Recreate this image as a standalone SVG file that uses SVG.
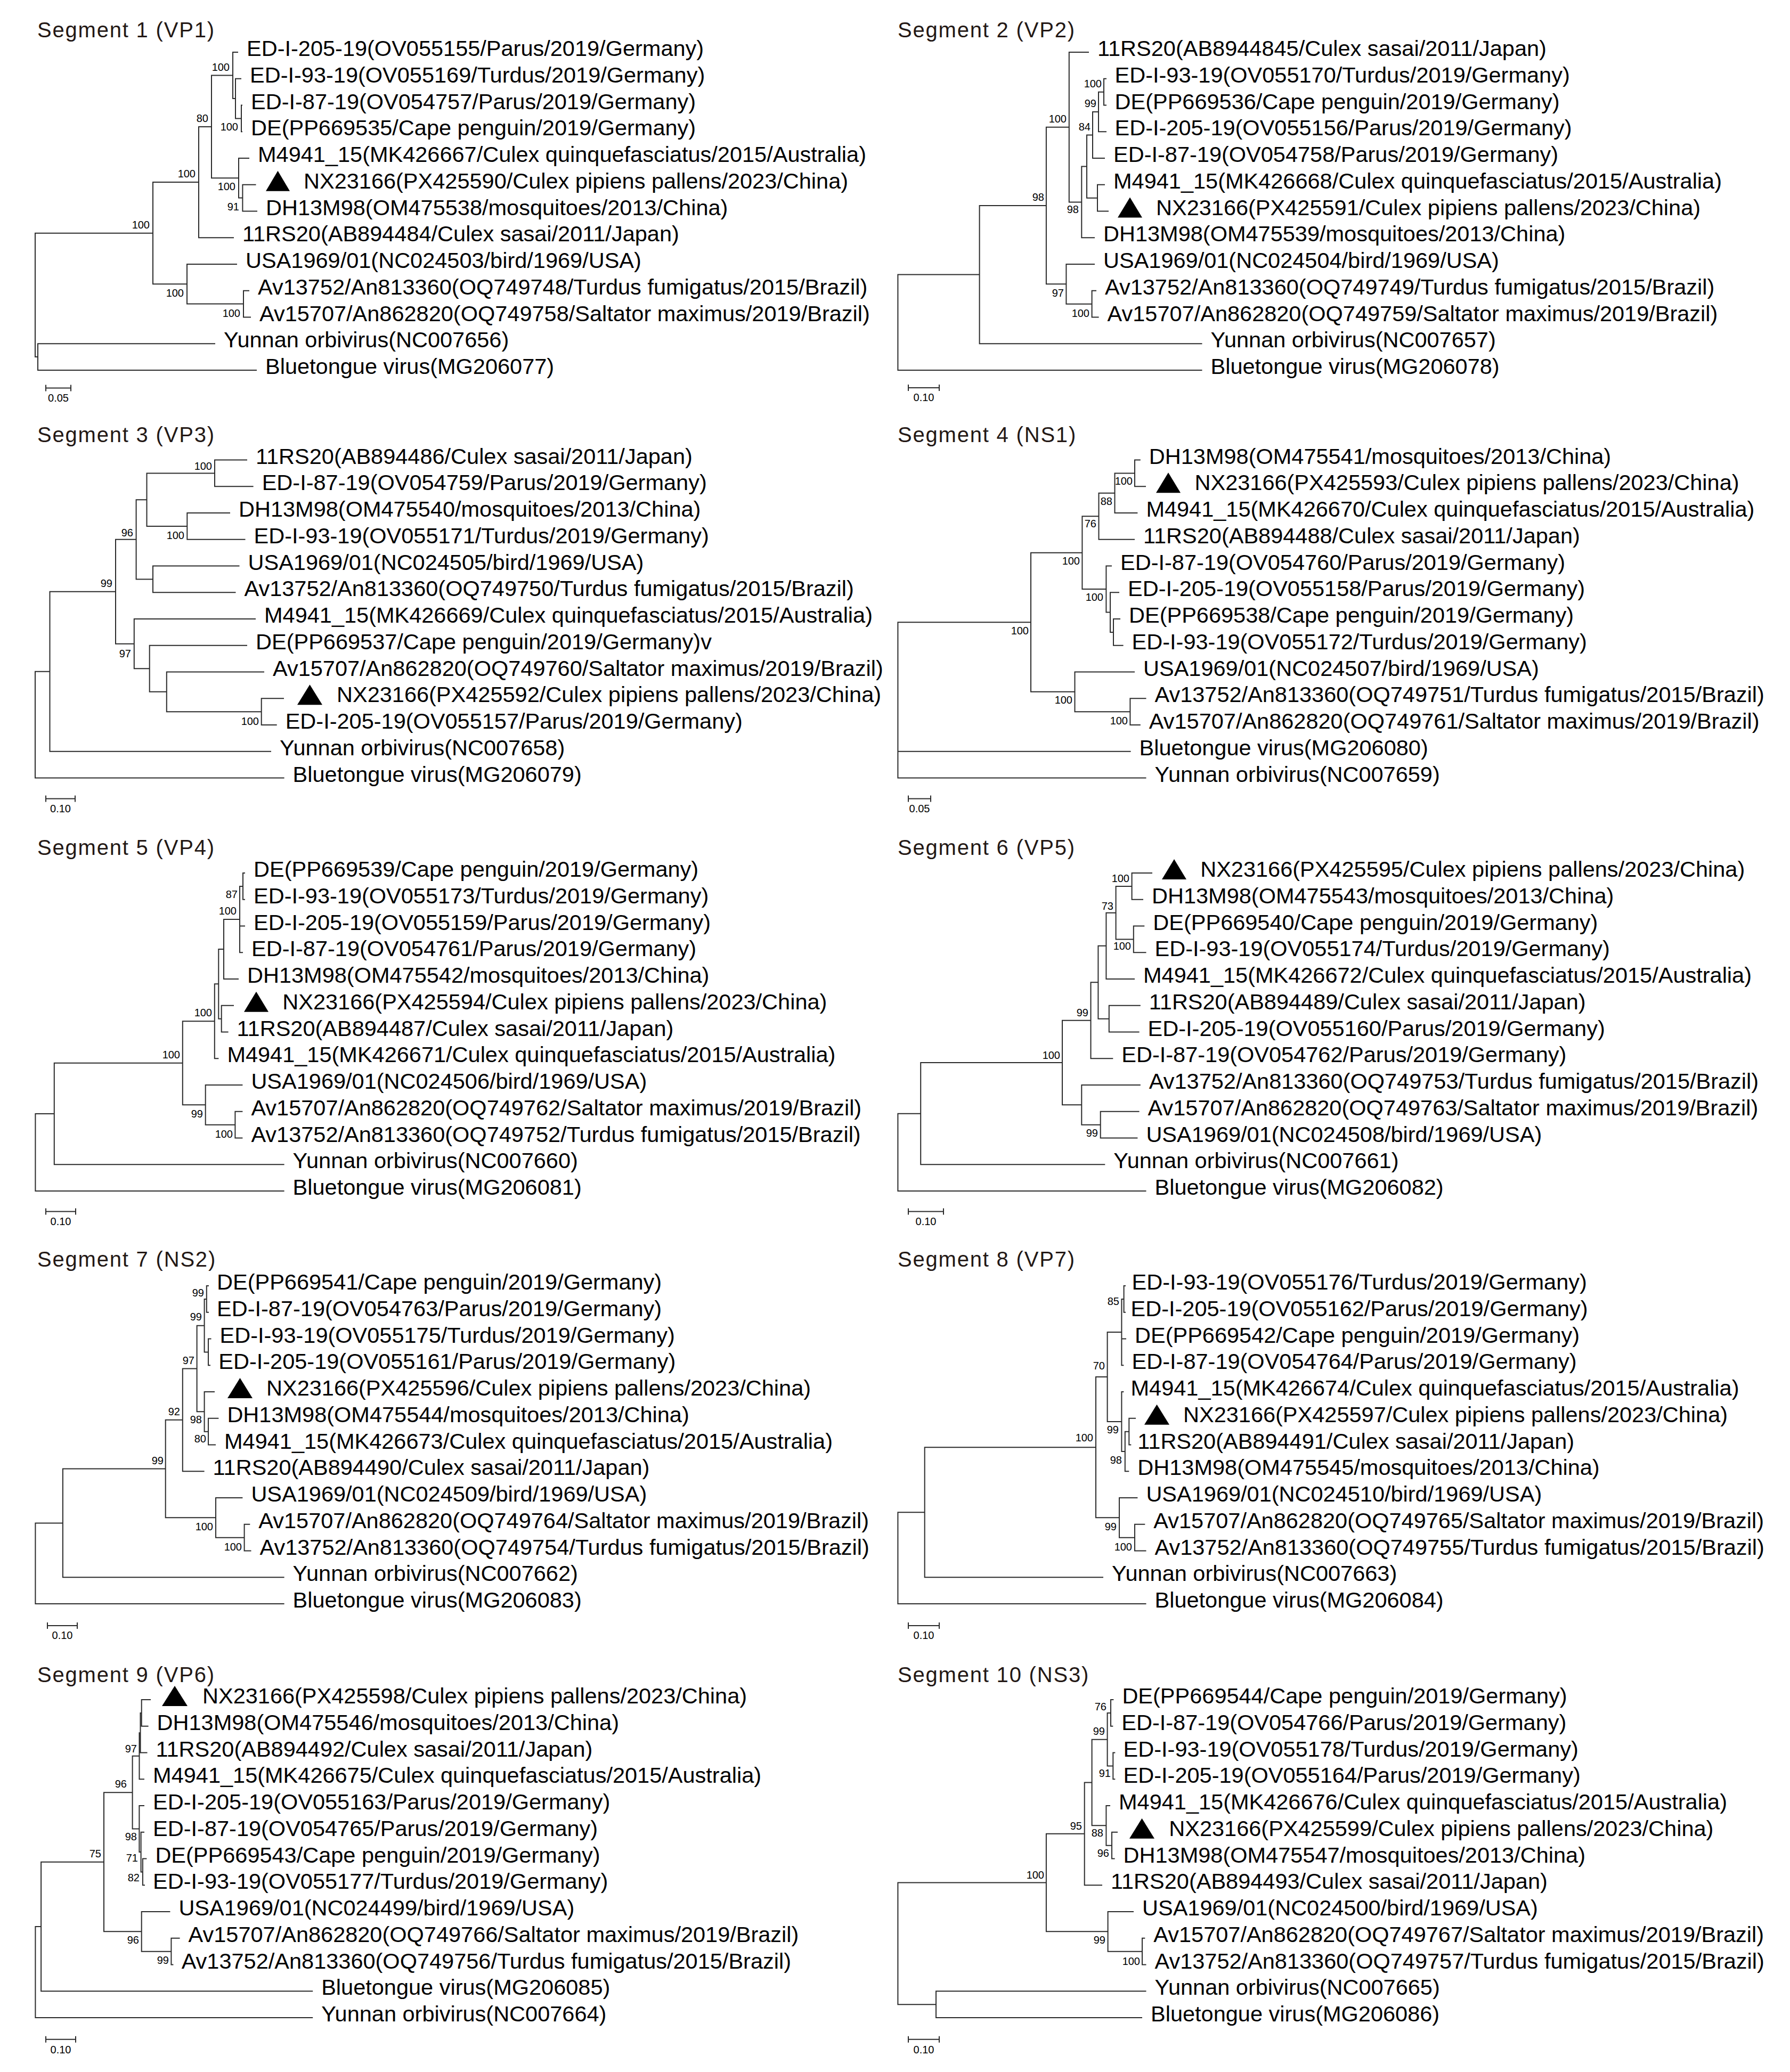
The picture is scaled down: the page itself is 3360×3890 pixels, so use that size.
<svg xmlns="http://www.w3.org/2000/svg" width="3360" height="3890" viewBox="0 0 3360 3890">
<style>
.br{fill:none;stroke:#2b2b2b;stroke-width:2;stroke-linecap:square}
.lb{font-family:"Liberation Sans",Arial,sans-serif;font-size:41.5px;fill:#000}
.bs text{font-family:"Liberation Sans",Arial,sans-serif;font-size:20px;fill:#000;text-anchor:end}
.tt{font-family:"Liberation Sans",Arial,sans-serif;font-size:40px;fill:#231815;letter-spacing:1.8px}
.sc{font-family:"Liberation Sans",Arial,sans-serif;font-size:20px;fill:#000;text-anchor:middle}
.tri{fill:#000}
</style>
<rect width="3360" height="3890" fill="#fff"/>

<!-- Segment 1 -->
<g id="seg1" transform="translate(0,98)">
<text id="seg1-title" class="tt" x="70" y="-28">Segment 1 (VP1)</text>
<g id="seg1-connectors"><path class="br" d="M287 339.7H66V572.1H71M373 244.1H287V435.3H351M397 139.9H373V348.25H438M437 43.5H397V236.3H448M446 0H437V87.1H442M452 49.75H442V124.4H453M454 99.5H453V149.25H454M467 199H448V273.6H455.4M479.5 248.75H455.4V298.5H482M444 398H351V472.6H457M467 447.75H457V497.5H470M403 547.25H71V597H481"/></g>
<g id="seg1-support" class="bs"><text x="281" y="330.7">100</text><text x="367" y="235.1">100</text><text x="391" y="130.9">80</text><text x="431" y="34.5">100</text><text x="447" y="147.4">100</text><text x="442" y="259.3">100</text><text x="449" y="296.6">91</text><text x="345" y="459.3">100</text><text x="451" y="496.6">100</text></g>
<g id="seg1-n0"><text class="lb" x="463" y="7">ED-I-205-19(OV055155/Parus/2019/Germany)</text></g>
<g id="seg1-n1"><text class="lb" x="469" y="56.75">ED-I-93-19(OV055169/Turdus/2019/Germany)</text></g>
<g id="seg1-n2"><text class="lb" x="471" y="106.5">ED-I-87-19(OV054757/Parus/2019/Germany)</text></g>
<g id="seg1-n3"><text class="lb" x="471" y="156.25">DE(PP669535/Cape penguin/2019/Germany)</text></g>
<g id="seg1-n4"><text class="lb" x="484" y="206">M4941_15(MK426667/Culex quinquefasciatus/2015/Australia)</text></g>
<g id="seg1-n5"><polygon class="tri" points="499,260.75 544,260.75 521.5,222.75"/><text class="lb" x="570" y="255.75">NX23166(PX425590/Culex pipiens pallens/2023/China)</text></g>
<g id="seg1-n6"><text class="lb" x="499" y="305.5">DH13M98(OM475538/mosquitoes/2013/China)</text></g>
<g id="seg1-n7"><text class="lb" x="455" y="355.25">11RS20(AB894484/Culex sasai/2011/Japan)</text></g>
<g id="seg1-n8"><text class="lb" x="461" y="405">USA1969/01(NC024503/bird/1969/USA)</text></g>
<g id="seg1-n9"><text class="lb" x="484" y="454.75">Av13752/An813360(OQ749748/Turdus fumigatus/2015/Brazil)</text></g>
<g id="seg1-n10"><text class="lb" x="487" y="504.5">Av15707/An862820(OQ749758/Saltator maximus/2019/Brazil)</text></g>
<g id="seg1-n11"><text class="lb" x="420" y="554.25">Yunnan orbivirus(NC007656)</text></g>
<g id="seg1-n12"><text class="lb" x="498" y="604">Bluetongue virus(MG206077)</text></g>
<g id="seg1-scale"><path class="br" d="M86 630.6H133M86 625.6V635.6M133 625.6V635.6"/><text class="sc" x="109.5" y="655.5">0.05</text></g>
</g>

<!-- Segment 2 -->
<g id="seg2" transform="translate(0,98)">
<text id="seg2-title" class="tt" x="1685" y="-28">Segment 2 (VP2)</text>
<g id="seg2-connectors"><path class="br" d="M2076 49.75H2072V99.5H2076M2072 74.625H2062V149.25H2076M2062 111.94H2051V199H2073M2073 248.75H2060V298.5H2080M2051 155.47H2040V273.625H2060M2040 214.55H2030.3V348.25H2054M2043 0H2006.8V281.4H2030.3M2057 447.75H2049.6V497.5H2061.6M2054 398H2001.4V472.625H2049.6M2006.8 140.7H1963.9V435.31H2001.4M1963.9 288H1838.6V547.25H2255.5M1838.6 417.6H1685.4V597H2255.5"/></g>
<g id="seg2-support" class="bs"><text x="2068" y="65.6">100</text><text x="2058" y="103">99</text><text x="2047" y="146.5">84</text><text x="2025" y="302">98</text><text x="2002" y="131.7">100</text><text x="1960" y="279">98</text><text x="1997" y="459.3">97</text><text x="2045" y="496.6">100</text></g>
<g id="seg2-n0"><text class="lb" x="2060" y="7">11RS20(AB8944845/Culex sasai/2011/Japan)</text></g>
<g id="seg2-n1"><text class="lb" x="2092.5" y="56.75">ED-I-93-19(OV055170/Turdus/2019/Germany)</text></g>
<g id="seg2-n2"><text class="lb" x="2092.5" y="106.5">DE(PP669536/Cape penguin/2019/Germany)</text></g>
<g id="seg2-n3"><text class="lb" x="2092.5" y="156.25">ED-I-205-19(OV055156/Parus/2019/Germany)</text></g>
<g id="seg2-n4"><text class="lb" x="2090" y="206">ED-I-87-19(OV054758/Parus/2019/Germany)</text></g>
<g id="seg2-n5"><text class="lb" x="2090" y="255.75">M4941_15(MK426668/Culex quinquefasciatus/2015/Australia)</text></g>
<g id="seg2-n6"><polygon class="tri" points="2098,310.5 2144,310.5 2121,272.5"/><text class="lb" x="2170" y="305.5">NX23166(PX425591/Culex pipiens pallens/2023/China)</text></g>
<g id="seg2-n7"><text class="lb" x="2071" y="355.25">DH13M98(OM475539/mosquitoes/2013/China)</text></g>
<g id="seg2-n8"><text class="lb" x="2071" y="405">USA1969/01(NC024504/bird/1969/USA)</text></g>
<g id="seg2-n9"><text class="lb" x="2074" y="454.75">Av13752/An813360(OQ749749/Turdus fumigatus/2015/Brazil)</text></g>
<g id="seg2-n10"><text class="lb" x="2078.6" y="504.5">Av15707/An862820(OQ749759/Saltator maximus/2019/Brazil)</text></g>
<g id="seg2-n11"><text class="lb" x="2272.5" y="554.25">Yunnan orbivirus(NC007657)</text></g>
<g id="seg2-n12"><text class="lb" x="2272.5" y="604">Bluetongue virus(MG206078)</text></g>
<g id="seg2-scale"><path class="br" d="M1705 630H1763M1705 625V635M1763 625V635"/><text class="sc" x="1734" y="655">0.10</text></g>
</g>

<!-- Segment 3 -->
<g id="seg3" transform="translate(0,863.5)">
<text id="seg3-title" class="tt" x="70" y="-33.5">Segment 3 (VP3)</text>
<g id="seg3-connectors"><path class="br" d="M463 0H403V49.75H474.6M431 99.5H351.3V149.25H459.5M403 24.875H275.5V124.375H351.3M448.5 199H287V248.75H441.5M275.5 74.625H255.6V223.875H287M532 447.75H490.7V497.5H518.7M495 398H312.8V472.625H490.7M463 348.25H280.7V435.31H312.8M479 298.5H251.8V391.78H280.7M255.6 149.25H217V345.14H251.8M217 247.2H93.5V547.25H508M93.5 397.2H66V597H532.6"/></g>
<g id="seg3-support" class="bs"><text x="398" y="18">100</text><text x="346" y="148.4">100</text><text x="250" y="143">96</text><text x="211" y="238">99</text><text x="246" y="370">97</text><text x="486" y="497.6">100</text></g>
<g id="seg3-n0"><text class="lb" x="480" y="7">11RS20(AB894486/Culex sasai/2011/Japan)</text></g>
<g id="seg3-n1"><text class="lb" x="491.7" y="56.75">ED-I-87-19(OV054759/Parus/2019/Germany)</text></g>
<g id="seg3-n2"><text class="lb" x="448" y="106.5">DH13M98(OM475540/mosquitoes/2013/China)</text></g>
<g id="seg3-n3"><text class="lb" x="476.5" y="156.25">ED-I-93-19(OV055171/Turdus/2019/Germany)</text></g>
<g id="seg3-n4"><text class="lb" x="465.5" y="206">USA1969/01(NC024505/bird/1969/USA)</text></g>
<g id="seg3-n5"><text class="lb" x="458.5" y="255.75">Av13752/An813360(OQ749750/Turdus fumigatus/2015/Brazil)</text></g>
<g id="seg3-n6"><text class="lb" x="496" y="305.5">M4941_15(MK426669/Culex quinquefasciatus/2015/Australia)</text></g>
<g id="seg3-n7"><text class="lb" x="480" y="355.25">DE(PP669537/Cape penguin/2019/Germany)v</text></g>
<g id="seg3-n8"><text class="lb" x="512" y="405">Av15707/An862820(OQ749760/Saltator maximus/2019/Brazil)</text></g>
<g id="seg3-n9"><polygon class="tri" points="558,459.75 605,459.75 581.5,421.75"/><text class="lb" x="632" y="454.75">NX23166(PX425592/Culex pipiens pallens/2023/China)</text></g>
<g id="seg3-n10"><text class="lb" x="535.7" y="504.5">ED-I-205-19(OV055157/Parus/2019/Germany)</text></g>
<g id="seg3-n11"><text class="lb" x="525" y="554.25">Yunnan orbivirus(NC007658)</text></g>
<g id="seg3-n12"><text class="lb" x="549.6" y="604">Bluetongue virus(MG206079)</text></g>
<g id="seg3-scale"><path class="br" d="M86 636H141M86 631V641M141 631V641"/><text class="sc" x="113.5" y="661">0.10</text></g>
</g>

<!-- Segment 4 -->
<g id="seg4" transform="translate(0,863.5)">
<text id="seg4-title" class="tt" x="1685" y="-33.5">Segment 4 (NS1)</text>
<g id="seg4-connectors"><path class="br" d="M2139.8 0H2130V49.75H2150M2130 24.875H2092.5V99.5H2134.4M2092.5 62.19H2062.5V149.25H2129M2102 298.5H2090V348.25H2107.6M2100 248.75H2084V323.375H2090M2086 199H2076.4V286.06H2084M2062.5 105.72H2031.4V242.53H2076.4M2150.5 447.75H2121.4V497.5H2139.8M2129 398H2017.5V472.625H2121.4M2031.4 174.13H1935V435.31H2017.5M1935 304.72H1685.4V597H2150.5M1685.4 547.25H2121.6"/></g>
<g id="seg4-support" class="bs"><text x="2126" y="46">100</text><text x="2088" y="84">88</text><text x="2058" y="126">76</text><text x="2027" y="196">100</text><text x="2071" y="264">100</text><text x="1931" y="327">100</text><text x="2013" y="457">100</text><text x="2117" y="496">100</text></g>
<g id="seg4-n0"><text class="lb" x="2156.8" y="7">DH13M98(OM475541/mosquitoes/2013/China)</text></g>
<g id="seg4-n1"><polygon class="tri" points="2170,61.75 2216,61.75 2193,23.75"/><text class="lb" x="2242.5" y="56.75">NX23166(PX425593/Culex pipiens pallens/2023/China)</text></g>
<g id="seg4-n2"><text class="lb" x="2151.4" y="106.5">M4941_15(MK426670/Culex quinquefasciatus/2015/Australia)</text></g>
<g id="seg4-n3"><text class="lb" x="2146" y="156.25">11RS20(AB894488/Culex sasai/2011/Japan)</text></g>
<g id="seg4-n4"><text class="lb" x="2103" y="206">ED-I-87-19(OV054760/Parus/2019/Germany)</text></g>
<g id="seg4-n5"><text class="lb" x="2117" y="255.75">ED-I-205-19(OV055158/Parus/2019/Germany)</text></g>
<g id="seg4-n6"><text class="lb" x="2119" y="305.5">DE(PP669538/Cape penguin/2019/Germany)</text></g>
<g id="seg4-n7"><text class="lb" x="2124.6" y="355.25">ED-I-93-19(OV055172/Turdus/2019/Germany)</text></g>
<g id="seg4-n8"><text class="lb" x="2146" y="405">USA1969/01(NC024507/bird/1969/USA)</text></g>
<g id="seg4-n9"><text class="lb" x="2167.5" y="454.75">Av13752/An813360(OQ749751/Turdus fumigatus/2015/Brazil)</text></g>
<g id="seg4-n10"><text class="lb" x="2156.8" y="504.5">Av15707/An862820(OQ749761/Saltator maximus/2019/Brazil)</text></g>
<g id="seg4-n11"><text class="lb" x="2138.6" y="554.25">Bluetongue virus(MG206080)</text></g>
<g id="seg4-n12"><text class="lb" x="2167.5" y="604">Yunnan orbivirus(NC007659)</text></g>
<g id="seg4-scale"><path class="br" d="M1705 636H1747M1705 631V641M1747 631V641"/><text class="sc" x="1726" y="661">0.05</text></g>
</g>

<!-- Segment 5 -->
<g id="seg5" transform="translate(0,1639)">
<text id="seg5-title" class="tt" x="70" y="-34">Segment 5 (VP4)</text>
<g id="seg5-connectors"><path class="br" d="M459 0H456V49.75H459M456 24.875H450V149.25H455M450 99.5H459M450 87.06H420V199H447M438 248.75H415.7V298.5H427.6M420 143.03H410.3V273.625H415.7M410.3 208.33H402.8V348.25H409.4M454.4 447.75H441.4V497.5H454.4M454.4 398H385.7V472.625H441.4M402.8 278.29H342.8V435.31H385.7M342.8 356.8H101.8V547.25H532.6M101.8 452.03H66.4V597H532.6"/></g>
<g id="seg5-support" class="bs"><text x="446" y="47">87</text><text x="444" y="78">100</text><text x="398" y="269.3">100</text><text x="338" y="347.8">100</text><text x="381" y="459.3">99</text><text x="437" y="496.6">100</text></g>
<g id="seg5-n0"><text class="lb" x="476" y="7">DE(PP669539/Cape penguin/2019/Germany)</text></g>
<g id="seg5-n1"><text class="lb" x="476" y="56.75">ED-I-93-19(OV055173/Turdus/2019/Germany)</text></g>
<g id="seg5-n2"><text class="lb" x="476" y="106.5">ED-I-205-19(OV055159/Parus/2019/Germany)</text></g>
<g id="seg5-n3"><text class="lb" x="472" y="156.25">ED-I-87-19(OV054761/Parus/2019/Germany)</text></g>
<g id="seg5-n4"><text class="lb" x="464" y="206">DH13M98(OM475542/mosquitoes/2013/China)</text></g>
<g id="seg5-n5"><polygon class="tri" points="458,260.75 504,260.75 481,222.75"/><text class="lb" x="530.3" y="255.75">NX23166(PX425594/Culex pipiens pallens/2023/China)</text></g>
<g id="seg5-n6"><text class="lb" x="444.6" y="305.5">11RS20(AB894487/Culex sasai/2011/Japan)</text></g>
<g id="seg5-n7"><text class="lb" x="426.4" y="355.25">M4941_15(MK426671/Culex quinquefasciatus/2015/Australia)</text></g>
<g id="seg5-n8"><text class="lb" x="471.4" y="405">USA1969/01(NC024506/bird/1969/USA)</text></g>
<g id="seg5-n9"><text class="lb" x="471.4" y="454.75">Av15707/An862820(OQ749762/Saltator maximus/2019/Brazil)</text></g>
<g id="seg5-n10"><text class="lb" x="471.4" y="504.5">Av13752/An813360(OQ749752/Turdus fumigatus/2015/Brazil)</text></g>
<g id="seg5-n11"><text class="lb" x="549.6" y="554.25">Yunnan orbivirus(NC007660)</text></g>
<g id="seg5-n12"><text class="lb" x="549.6" y="604">Bluetongue virus(MG206081)</text></g>
<g id="seg5-scale"><path class="br" d="M86 635.6H142M86 630.6V640.6M142 630.6V640.6"/><text class="sc" x="114" y="660.6">0.10</text></g>
</g>

<!-- Segment 6 -->
<g id="seg6" transform="translate(0,1639)">
<text id="seg6-title" class="tt" x="1685" y="-34">Segment 6 (VP5)</text>
<g id="seg6-connectors"><path class="br" d="M2162 0H2124.6V49.75H2145M2147.3 99.5H2127.8V149.25H2150.5M2124.6 24.875H2094.6V124.375H2127.8M2094.6 74.625H2076.4V199H2129M2139.8 248.75H2081.8V298.5H2137.6M2076.4 136.81H2061.4V273.625H2081.8M2061.4 205.22H2047.5V348.25H2088.3M2137.6 447.75H2065.7V497.5H2134.4M2139.8 398H2030.3V472.625H2065.7M2047.5 276.74H1994V435.31H2030.3M1994 356.03H1728.2V547.25H2073.3M1728.2 451.64H1685.4V597H2150.5"/></g>
<g id="seg6-support" class="bs"><text x="2120" y="17">100</text><text x="2123" y="144">100</text><text x="2090" y="69">73</text><text x="2043" y="269">99</text><text x="1990" y="349">100</text><text x="2061" y="495">99</text></g>
<g id="seg6-n0"><polygon class="tri" points="2181,12 2227,12 2204,-26"/><text class="lb" x="2253.2" y="7">NX23166(PX425595/Culex pipiens pallens/2023/China)</text></g>
<g id="seg6-n1"><text class="lb" x="2162" y="56.75">DH13M98(OM475543/mosquitoes/2013/China)</text></g>
<g id="seg6-n2"><text class="lb" x="2164.3" y="106.5">DE(PP669540/Cape penguin/2019/Germany)</text></g>
<g id="seg6-n3"><text class="lb" x="2167.5" y="156.25">ED-I-93-19(OV055174/Turdus/2019/Germany)</text></g>
<g id="seg6-n4"><text class="lb" x="2146" y="206">M4941_15(MK426672/Culex quinquefasciatus/2015/Australia)</text></g>
<g id="seg6-n5"><text class="lb" x="2156.8" y="255.75">11RS20(AB894489/Culex sasai/2011/Japan)</text></g>
<g id="seg6-n6"><text class="lb" x="2154.6" y="305.5">ED-I-205-19(OV055160/Parus/2019/Germany)</text></g>
<g id="seg6-n7"><text class="lb" x="2105.3" y="355.25">ED-I-87-19(OV054762/Parus/2019/Germany)</text></g>
<g id="seg6-n8"><text class="lb" x="2156.8" y="405">Av13752/An813360(OQ749753/Turdus fumigatus/2015/Brazil)</text></g>
<g id="seg6-n9"><text class="lb" x="2154.6" y="454.75">Av15707/An862820(OQ749763/Saltator maximus/2019/Brazil)</text></g>
<g id="seg6-n10"><text class="lb" x="2151.4" y="504.5">USA1969/01(NC024508/bird/1969/USA)</text></g>
<g id="seg6-n11"><text class="lb" x="2090.3" y="554.25">Yunnan orbivirus(NC007661)</text></g>
<g id="seg6-n12"><text class="lb" x="2167.5" y="604">Bluetongue virus(MG206082)</text></g>
<g id="seg6-scale"><path class="br" d="M1705 635.6H1771M1705 630.6V640.6M1771 630.6V640.6"/><text class="sc" x="1738" y="660.6">0.10</text></g>
</g>

<!-- Segment 7 -->
<g id="seg7" transform="translate(0,2414)">
<text id="seg7-title" class="tt" x="70" y="-36">Segment 7 (NS2)</text>
<g id="seg7-connectors"><path class="br" d="M391 0H387.8V49.75H391M395.5 99.5H391V149.25H394M387.8 24.875H383.6V124.375H391M409.4 248.75H391V298.5H404M402 199H383.6V273.625H391M383.6 74.625H369.6V236.31H383.6M369.6 155.47H342.8V348.25H382.6M468.3 447.75H458.6V497.5H470.5M454.4 398H405V472.625H458.6M342.8 251.86H310.7V435.31H405M310.7 343.59H117.9V547.25H532.6M117.9 445.42H66.4V597H532.6"/></g>
<g id="seg7-support" class="bs"><text x="383" y="20">99</text><text x="379" y="65">99</text><text x="365" y="146.5">97</text><text x="379" y="258">98</text><text x="387" y="294">80</text><text x="338" y="243">92</text><text x="307" y="334.6">99</text><text x="400" y="459.3">100</text><text x="454" y="496.6">100</text></g>
<g id="seg7-n0"><text class="lb" x="407" y="7">DE(PP669541/Cape penguin/2019/Germany)</text></g>
<g id="seg7-n1"><text class="lb" x="407" y="56.75">ED-I-87-19(OV054763/Parus/2019/Germany)</text></g>
<g id="seg7-n2"><text class="lb" x="412.5" y="106.5">ED-I-93-19(OV055175/Turdus/2019/Germany)</text></g>
<g id="seg7-n3"><text class="lb" x="410.3" y="156.25">ED-I-205-19(OV055161/Parus/2019/Germany)</text></g>
<g id="seg7-n4"><polygon class="tri" points="427,211 474,211 450.5,173"/><text class="lb" x="500" y="206">NX23166(PX425596/Culex pipiens pallens/2023/China)</text></g>
<g id="seg7-n5"><text class="lb" x="426.4" y="255.75">DH13M98(OM475544/mosquitoes/2013/China)</text></g>
<g id="seg7-n6"><text class="lb" x="421" y="305.5">M4941_15(MK426673/Culex quinquefasciatus/2015/Australia)</text></g>
<g id="seg7-n7"><text class="lb" x="399.6" y="355.25">11RS20(AB894490/Culex sasai/2011/Japan)</text></g>
<g id="seg7-n8"><text class="lb" x="471.4" y="405">USA1969/01(NC024509/bird/1969/USA)</text></g>
<g id="seg7-n9"><text class="lb" x="485.3" y="454.75">Av15707/An862820(OQ749764/Saltator maximus/2019/Brazil)</text></g>
<g id="seg7-n10"><text class="lb" x="487.5" y="504.5">Av13752/An813360(OQ749754/Turdus fumigatus/2015/Brazil)</text></g>
<g id="seg7-n11"><text class="lb" x="549.6" y="554.25">Yunnan orbivirus(NC007662)</text></g>
<g id="seg7-n12"><text class="lb" x="549.6" y="604">Bluetongue virus(MG206083)</text></g>
<g id="seg7-scale"><path class="br" d="M89 638H145M89 633V643M145 633V643"/><text class="sc" x="117" y="663">0.10</text></g>
</g>

<!-- Segment 8 -->
<g id="seg8" transform="translate(0,2414)">
<text id="seg8-title" class="tt" x="1685" y="-36">Segment 8 (VP7)</text>
<g id="seg8-connectors"><path class="br" d="M2112 0H2109.6V49.75H2112M2109.6 24.875H2105.4V149.25H2108.4M2105.4 99.5H2113M2131 248.75H2119.3V298.5H2122.3M2119.3 273.625H2111.8V348.25H2118.3M2108.4 199H2105.4V310.94H2111.8M2105.4 87.06H2078.6V254.97H2105.4M2148.3 447.75H2130V497.5H2150.5M2134.4 398H2101V472.625H2130M2078.6 171.02H2057V435.31H2101M2057 303.17H1735.7V547.25H2070M1735.7 425.21H1685.4V597H2150.5"/></g>
<g id="seg8-support" class="bs"><text x="2101" y="36">85</text><text x="2074" y="157">70</text><text x="2052" y="292">100</text><text x="2100" y="277">99</text><text x="2106" y="334">98</text><text x="2096" y="459.3">99</text><text x="2125" y="496.6">100</text></g>
<g id="seg8-n0"><text class="lb" x="2124.6" y="7">ED-I-93-19(OV055176/Turdus/2019/Germany)</text></g>
<g id="seg8-n1"><text class="lb" x="2122.5" y="56.75">ED-I-205-19(OV055162/Parus/2019/Germany)</text></g>
<g id="seg8-n2"><text class="lb" x="2130" y="106.5">DE(PP669542/Cape penguin/2019/Germany)</text></g>
<g id="seg8-n3"><text class="lb" x="2124.6" y="156.25">ED-I-87-19(OV054764/Parus/2019/Germany)</text></g>
<g id="seg8-n4"><text class="lb" x="2122.5" y="206">M4941_15(MK426674/Culex quinquefasciatus/2015/Australia)</text></g>
<g id="seg8-n5"><polygon class="tri" points="2148,260.75 2195,260.75 2171.5,222.75"/><text class="lb" x="2221" y="255.75">NX23166(PX425597/Culex pipiens pallens/2023/China)</text></g>
<g id="seg8-n6"><text class="lb" x="2135.3" y="305.5">11RS20(AB894491/Culex sasai/2011/Japan)</text></g>
<g id="seg8-n7"><text class="lb" x="2135.3" y="355.25">DH13M98(OM475545/mosquitoes/2013/China)</text></g>
<g id="seg8-n8"><text class="lb" x="2151.4" y="405">USA1969/01(NC024510/bird/1969/USA)</text></g>
<g id="seg8-n9"><text class="lb" x="2165.3" y="454.75">Av15707/An862820(OQ749765/Saltator maximus/2019/Brazil)</text></g>
<g id="seg8-n10"><text class="lb" x="2167.5" y="504.5">Av13752/An813360(OQ749755/Turdus fumigatus/2015/Brazil)</text></g>
<g id="seg8-n11"><text class="lb" x="2087" y="554.25">Yunnan orbivirus(NC007663)</text></g>
<g id="seg8-n12"><text class="lb" x="2167.5" y="604">Bluetongue virus(MG206084)</text></g>
<g id="seg8-scale"><path class="br" d="M1705 638H1763M1705 633V643M1763 633V643"/><text class="sc" x="1734" y="663">0.10</text></g>
</g>

<!-- Segment 9 -->
<g id="seg9" transform="translate(0,3191)">
<text id="seg9-title" class="tt" x="70" y="-33">Segment 9 (VP6)</text>
<g id="seg9-connectors"><path class="br" d="M282 0H265.7V49.75H277.6M265.7 24.875H263.5V99.5H275.5M263.5 62.19H261.5V149.25H270M274.4 298.5H267.9V348.25H271M270 248.75H264.6V323.375H267.9M270 199H261.4V286.06H264.6M261.5 105.72H248.6V242.53H261.4M336.6 447.75H321.4V497.5H324.4M318.4 398H265.7V472.625H321.4M248.6 174.13H195V435.31H265.7M195 304.72H77.1V547.25H586.2M77.1 425.98H66.4V597H586.2"/></g>
<g id="seg9-support" class="bs"><text x="257" y="99">97</text><text x="257" y="264">98</text><text x="259" y="304">71</text><text x="262" y="341">82</text><text x="238" y="165">96</text><text x="190" y="296">75</text><text x="261" y="458">96</text><text x="317" y="496">99</text></g>
<g id="seg9-n0"><polygon class="tri" points="304,12 352,12 328,-26"/><text class="lb" x="380" y="7">NX23166(PX425598/Culex pipiens pallens/2023/China)</text></g>
<g id="seg9-n1"><text class="lb" x="294.6" y="56.75">DH13M98(OM475546/mosquitoes/2013/China)</text></g>
<g id="seg9-n2"><text class="lb" x="292.5" y="106.5">11RS20(AB894492/Culex sasai/2011/Japan)</text></g>
<g id="seg9-n3"><text class="lb" x="287.1" y="156.25">M4941_15(MK426675/Culex quinquefasciatus/2015/Australia)</text></g>
<g id="seg9-n4"><text class="lb" x="287.1" y="206">ED-I-205-19(OV055163/Parus/2019/Germany)</text></g>
<g id="seg9-n5"><text class="lb" x="287.1" y="255.75">ED-I-87-19(OV054765/Parus/2019/Germany)</text></g>
<g id="seg9-n6"><text class="lb" x="291.4" y="305.5">DE(PP669543/Cape penguin/2019/Germany)</text></g>
<g id="seg9-n7"><text class="lb" x="287.1" y="355.25">ED-I-93-19(OV055177/Turdus/2019/Germany)</text></g>
<g id="seg9-n8"><text class="lb" x="335.4" y="405">USA1969/01(NC024499/bird/1969/USA)</text></g>
<g id="seg9-n9"><text class="lb" x="353.6" y="454.75">Av15707/An862820(OQ749766/Saltator maximus/2019/Brazil)</text></g>
<g id="seg9-n10"><text class="lb" x="340.7" y="504.5">Av13752/An813360(OQ749756/Turdus fumigatus/2015/Brazil)</text></g>
<g id="seg9-n11"><text class="lb" x="603.2" y="554.25">Bluetongue virus(MG206085)</text></g>
<g id="seg9-n12"><text class="lb" x="603.2" y="604">Yunnan orbivirus(NC007664)</text></g>
<g id="seg9-scale"><path class="br" d="M86 637.7H142M86 632.7V642.7M142 632.7V642.7"/><text class="sc" x="114" y="664">0.10</text></g>
</g>

<!-- Segment 10 -->
<g id="seg10" transform="translate(0,3191)">
<text id="seg10-title" class="tt" x="1685" y="-33">Segment 10 (NS3)</text>
<g id="seg10-connectors"><path class="br" d="M2089.4 0H2085V49.75H2088.3M2092.3 99.5H2089.3V149.25H2092.3M2085 24.875H2078.6V124.375H2089.3M2097 248.75H2087V298.5H2091.6M2083 199H2076.4V273.625H2087M2078.6 74.625H2049.6V236.31H2076.4M2049.6 155.47H2035.7V348.25H2068M2148.3 447.75H2144V497.5H2150.5M2127 398H2079.6V472.625H2144M2035.7 251.86H1963.9V435.31H2079.6M2150.5 547.25H1757V597H2143M1963.9 343.59H1685.4V572.125H1757"/></g>
<g id="seg10-support" class="bs"><text x="2077" y="20">76</text><text x="2074" y="66">99</text><text x="2085" y="145">91</text><text x="2071" y="257">88</text><text x="2082" y="295">96</text><text x="2031" y="244">95</text><text x="1960" y="336">100</text><text x="2075" y="458">99</text><text x="2140" y="498">100</text></g>
<g id="seg10-n0"><text class="lb" x="2106.4" y="7">DE(PP669544/Cape penguin/2019/Germany)</text></g>
<g id="seg10-n1"><text class="lb" x="2105.3" y="56.75">ED-I-87-19(OV054766/Parus/2019/Germany)</text></g>
<g id="seg10-n2"><text class="lb" x="2108.6" y="106.5">ED-I-93-19(OV055178/Turdus/2019/Germany)</text></g>
<g id="seg10-n3"><text class="lb" x="2108.6" y="156.25">ED-I-205-19(OV055164/Parus/2019/Germany)</text></g>
<g id="seg10-n4"><text class="lb" x="2100" y="206">M4941_15(MK426676/Culex quinquefasciatus/2015/Australia)</text></g>
<g id="seg10-n5"><polygon class="tri" points="2120,260.75 2167,260.75 2143.5,222.75"/><text class="lb" x="2194.3" y="255.75">NX23166(PX425599/Culex pipiens pallens/2023/China)</text></g>
<g id="seg10-n6"><text class="lb" x="2108.6" y="305.5">DH13M98(OM475547/mosquitoes/2013/China)</text></g>
<g id="seg10-n7"><text class="lb" x="2085" y="355.25">11RS20(AB894493/Culex sasai/2011/Japan)</text></g>
<g id="seg10-n8"><text class="lb" x="2144" y="405">USA1969/01(NC024500/bird/1969/USA)</text></g>
<g id="seg10-n9"><text class="lb" x="2165.3" y="454.75">Av15707/An862820(OQ749767/Saltator maximus/2019/Brazil)</text></g>
<g id="seg10-n10"><text class="lb" x="2167.5" y="504.5">Av13752/An813360(OQ749757/Turdus fumigatus/2015/Brazil)</text></g>
<g id="seg10-n11"><text class="lb" x="2167.5" y="554.25">Yunnan orbivirus(NC007665)</text></g>
<g id="seg10-n12"><text class="lb" x="2160" y="604">Bluetongue virus(MG206086)</text></g>
<g id="seg10-scale"><path class="br" d="M1705 637.7H1763M1705 632.7V642.7M1763 632.7V642.7"/><text class="sc" x="1734" y="664">0.10</text></g>
</g>
</svg>
